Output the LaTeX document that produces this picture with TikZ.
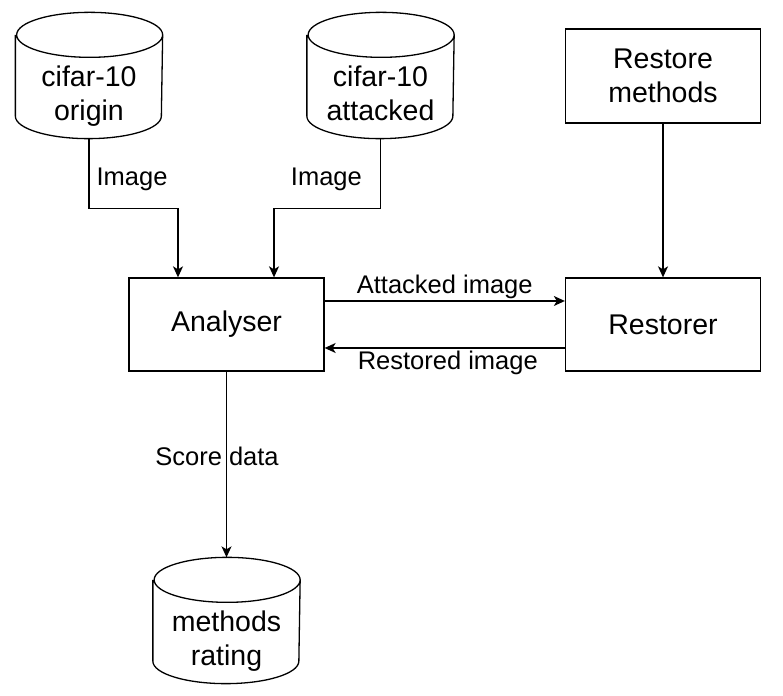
\documentclass[tikz,border=0pt]{standalone}
\usepackage{fontspec}
\setmainfont{Liberation Sans}
\usepackage{tikz}
\usetikzlibrary{arrows.meta,positioning}
\newcommand\dbshape[1]{\draw ([yshift=22.5pt]#1.north west) -- ([yshift=22.5pt]#1.south west) arc[start angle=180,end angle=360,x radius=73pt,y radius=22.5pt] -- ([yshift=22.5pt]#1.north east) arc[start angle=0,end angle=360,x radius=73pt,y radius=22.5pt];}

\begin{document}
\begin{tikzpicture}[x=1pt,y=1pt,line width=1.3pt,
  box/.style={draw,rectangle,minimum width=195pt,minimum height=93pt,align=center,font=\fontsize{28.5}{34}\selectfont,inner sep=0pt},
  db/.style={rectangle,minimum width=146pt,minimum height=80pt,align=center,font=\fontsize{28.5}{34}\selectfont,inner sep=0pt,execute at begin node=\strut,execute at end node=\strut},
  arr/.style={-{Stealth[length=11pt,width=10pt,inset=3pt]}},
  lbl/.style={font=\fontsize{25.5}{30}\selectfont,inner sep=2pt}]
\useasboundingbox (0,0) rectangle (783,695);
\node[db] (origin) at (89,597) {cifar-10\\origin};
\node[db] (attacked) at (380.5,597) {cifar-10\\attacked};
\node[box,minimum height=94pt] (methods) at (663,619) {Restore\\methods};
\node[box] (analyser) at (226.5,370.5) {Analyser};
\node[box] (restorer) at (663,370.5) {Restorer};
\node[db] (rating) at (226.5,52) {methods\\rating};
\dbshape{origin}
\dbshape{attacked}
\dbshape{rating}
\draw[arr] (origin.south) -- ++(0,-70) node[lbl,right=5pt,pos=0.58] {Image} -| ([xshift=-48.5pt]analyser.north);
\draw[arr] (attacked.south) -- ++(0,-70) node[lbl,left=16pt,pos=0.58] {Image} -| ([xshift=47.5pt]analyser.north);
\draw[arr] (methods) -- (restorer);
\draw[arr] ([yshift=23.5pt]analyser.east) -- node[lbl,above] {Attacked image} ([yshift=23.5pt]restorer.west);
\draw[arr] ([yshift=-23.5pt]restorer.west) -- node[lbl,below,xshift=3pt] {Restored image} ([yshift=-23.5pt]analyser.east);
\draw[arr] (analyser) -- node[lbl,pos=0.455,xshift=-9.5pt] {Score data} ([yshift=45pt]rating.north);
\end{tikzpicture}
\end{document}
